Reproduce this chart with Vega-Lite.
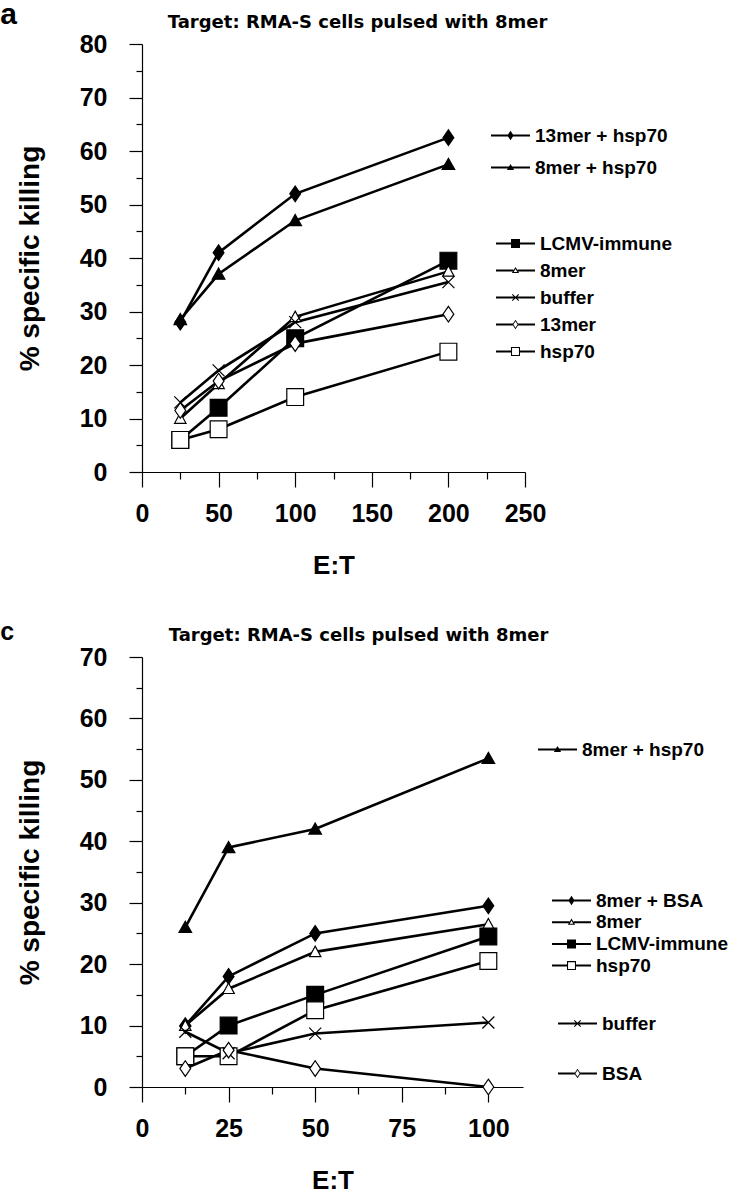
{
  "$schema": "https://vega.github.io/schema/vega-lite/v6.json",
  "background": "white",
  "padding": {"left": 0, "top": 0, "right": 0, "bottom": 0},
  "config": {
    "view": {"stroke": null},
    "axis": {
      "grid": false,
      "domainColor": "black",
      "tickColor": "black",
      "labelColor": "black",
      "titleColor": "black",
      "labelFont": "Liberation Sans",
      "labelFontWeight": "bold",
      "labelFontSize": 25,
      "titleFont": "Liberation Sans",
      "titleFontWeight": "bold",
      "titleFontSize": 28,
      "labelFlush": false,
      "labelOverlap": false,
      "labelBound": false,
      "domainWidth": 1.2,
      "tickWidth": 1.2
    },
    "axisX": {"labelFontSize": 25, "titleFontSize": 26},
    "legend": {
      "labelFont": "Liberation Sans",
      "labelFontWeight": "bold",
      "labelFontSize": 19,
      "labelColor": "black",
      "symbolSize": 36,
      "symbolStrokeWidth": 0,
      "labelOffset": 15,
      "labelLimit": 300
    },
    "title": {"color": "black"}
  },
  "datasets": {
    "a": [
      {"series": "13mer + hsp70", "et": 25, "killing": 28},
      {"series": "13mer + hsp70", "et": 50, "killing": 41},
      {"series": "13mer + hsp70", "et": 100, "killing": 52},
      {"series": "13mer + hsp70", "et": 200, "killing": 62.5},
      {"series": "8mer + hsp70", "et": 25, "killing": 28.5},
      {"series": "8mer + hsp70", "et": 50, "killing": 37},
      {"series": "8mer + hsp70", "et": 100, "killing": 47},
      {"series": "8mer + hsp70", "et": 200, "killing": 57.5},
      {"series": "LCMV-immune", "et": 25, "killing": 6},
      {"series": "LCMV-immune", "et": 50, "killing": 12},
      {"series": "LCMV-immune", "et": 100, "killing": 25},
      {"series": "LCMV-immune", "et": 200, "killing": 39.5},
      {"series": "8mer", "et": 25, "killing": 10},
      {"series": "8mer", "et": 50, "killing": 16.5},
      {"series": "8mer", "et": 100, "killing": 29},
      {"series": "8mer", "et": 200, "killing": 37.5},
      {"series": "buffer", "et": 25, "killing": 13},
      {"series": "buffer", "et": 50, "killing": 19},
      {"series": "buffer", "et": 100, "killing": 28},
      {"series": "buffer", "et": 200, "killing": 35.5},
      {"series": "13mer", "et": 25, "killing": 11.5},
      {"series": "13mer", "et": 50, "killing": 17},
      {"series": "13mer", "et": 100, "killing": 24},
      {"series": "13mer", "et": 200, "killing": 29.5},
      {"series": "hsp70", "et": 25, "killing": 6},
      {"series": "hsp70", "et": 50, "killing": 8},
      {"series": "hsp70", "et": 100, "killing": 14},
      {"series": "hsp70", "et": 200, "killing": 22.5}
    ],
    "c": [
      {"series": "8mer + hsp70", "et": 12.5, "killing": 26},
      {"series": "8mer + hsp70", "et": 25, "killing": 39},
      {"series": "8mer + hsp70", "et": 50, "killing": 42},
      {"series": "8mer + hsp70", "et": 100, "killing": 53.5},
      {"series": "8mer + BSA", "et": 12.5, "killing": 10},
      {"series": "8mer + BSA", "et": 25, "killing": 18},
      {"series": "8mer + BSA", "et": 50, "killing": 25},
      {"series": "8mer + BSA", "et": 100, "killing": 29.5},
      {"series": "8mer", "et": 12.5, "killing": 10},
      {"series": "8mer", "et": 25, "killing": 16},
      {"series": "8mer", "et": 50, "killing": 22},
      {"series": "8mer", "et": 100, "killing": 26.5},
      {"series": "LCMV-immune", "et": 12.5, "killing": 5},
      {"series": "LCMV-immune", "et": 25, "killing": 10},
      {"series": "LCMV-immune", "et": 50, "killing": 15},
      {"series": "LCMV-immune", "et": 100, "killing": 24.5},
      {"series": "hsp70", "et": 12.5, "killing": 5},
      {"series": "hsp70", "et": 25, "killing": 5},
      {"series": "hsp70", "et": 50, "killing": 12.5},
      {"series": "hsp70", "et": 100, "killing": 20.5},
      {"series": "buffer", "et": 12.5, "killing": 9},
      {"series": "buffer", "et": 25, "killing": 5.5},
      {"series": "buffer", "et": 50, "killing": 8.7},
      {"series": "buffer", "et": 100, "killing": 10.5},
      {"series": "BSA", "et": 12.5, "killing": 3},
      {"series": "BSA", "et": 25, "killing": 6},
      {"series": "BSA", "et": 50, "killing": 3},
      {"series": "BSA", "et": 100, "killing": 0}
    ]
  },
  "spacing": 42,
  "resolve": {"scale": {"shape": "independent", "fill": "independent", "x": "independent", "y": "independent"}},
  "vconcat": [
    {
      "title": {"text": "a", "anchor": "start", "frame": "bounds", "font": "Liberation Sans", "fontSize": 30, "fontWeight": "bold", "offset": -16, "dx": -16},
      "vconcat": [
        {
          "width": 383,
          "height": 428,
          "title": {"text": "Target: RMA-S cells pulsed with 8mer", "anchor": "middle", "dx": 24, "font": "DejaVu Sans", "fontSize": 18, "fontWeight": "bold", "offset": 0},
          "data": {"name": "a"},
          "encoding": {
            "x": {"field": "et", "type": "quantitative", "scale": {"domain": [0, 250], "nice": false},
              "axis": {"title": "E:T", "values": [0, 25, 50, 75, 100, 125, 150, 175, 200, 225, 250],
                "labelExpr": "datum.value % 50 ? '' : datum.label",
                "tickSize": {"condition": {"test": "datum.value % 50 !== 0", "value": 7}, "value": 15},
                "labelPadding": 14, "titlePadding": 26}},
            "y": {"field": "killing", "type": "quantitative", "scale": {"domain": [0, 80], "nice": false},
              "axis": {"title": "% specific killing", "values": [0, 5, 10, 15, 20, 25, 30, 35, 40, 45, 50, 55, 60, 65, 70, 75, 80],
                "labelExpr": "datum.value % 10 ? '' : datum.label",
                "tickSize": {"condition": {"test": "datum.value % 10 !== 0", "value": 6}, "value": 13},
                "labelPadding": 22, "titlePadding": 35}}
          },
          "layer": [
            {"mark": {"type": "line", "color": "black", "strokeWidth": 2.6}, "encoding": {"detail": {"field": "series"}}},
            {
              "mark": {"type": "point", "filled": true, "stroke": "black", "strokeWidth": 1.2, "size": 144, "opacity": 1},
              "encoding": {
                "shape": {"field": "series", "type": "nominal", "legend": null,
                  "scale": {"domain": ["13mer + hsp70", "8mer + hsp70", "LCMV-immune", "8mer", "buffer", "13mer", "hsp70"],
                    "range": ["M0,-1.3L0.9,0L0,1.3L-0.9,0Z", "M0,-1L1.05,0.85L-1.05,0.85Z", "M-1.4,-1.4H1.4V1.4H-1.4Z", "M0,-0.95L0.95,0.8L-0.95,0.8Z", "M-1,-1L1,1M-1,1L1,-1", "M0,-1.3L0.9,0L0,1.3L-0.9,0Z", "M-1.4,-1.4H1.4V1.4H-1.4Z"]}},
                "fill": {"field": "series", "type": "nominal", "legend": null,
                  "scale": {"domain": ["13mer + hsp70", "8mer + hsp70", "LCMV-immune", "8mer", "buffer", "13mer", "hsp70"],
                    "range": ["black", "black", "black", "white", "white", "white", "white"]}}
              }
            },
            {
              "transform": [{"filter": "false"}],
              "mark": {"type": "point", "filled": true, "color": "black", "opacity": 1},
              "encoding": {
                "shape": {"field": "series", "type": "nominal",
                  "scale": {"domain": ["13mer + hsp70", "8mer + hsp70"],
                    "range": ["M-6.5,-0.33H6.5V0.33H-6.5ZM0,-1.6L1.05,0L0,1.6L-1.05,0Z", "M-6.5,-0.33H6.5V0.33H-6.5ZM0,-1.2L1.2,0.85L-1.2,0.85Z"]},
                  "legend": {"title": null, "orient": "none", "legendX": 359, "legendY": 82, "rowPadding": 12}}
              }
            },
            {
              "transform": [{"filter": "false"}],
              "mark": {"type": "point", "filled": true, "color": "black", "opacity": 1},
              "encoding": {
                "shape": {"field": "series", "type": "nominal",
                  "scale": {"domain": ["LCMV-immune", "8mer", "buffer", "13mer", "hsp70"],
                    "range": [
                      "M-6.5,-0.33H6.5V0.33H-6.5ZM-1.5,-1.5H1.5V1.5H-1.5Z",
                      "M-6.5,-0.33H-0.7V0.33H-6.5ZM0.7,-0.33H6.5V0.33H0.7ZM0,-1.2L1.2,0.85L-1.2,0.85ZM0,-0.51L-0.59,0.5L0.59,0.5Z",
                      "M-6.5,-0.33H6.5V0.33H-6.5ZM-1.2,-0.95L-0.95,-1.2L0,-0.25L0.95,-1.2L1.2,-0.95L0.25,0L1.2,0.95L0.95,1.2L0,0.25L-0.95,1.2L-1.2,0.95L-0.25,0Z",
                      "M-6.5,-0.33H-0.85V0.33H-6.5ZM0.85,-0.33H6.5V0.33H0.85ZM0,-1.6L1.05,0L0,1.6L-1.05,0ZM0,-1.1L-0.7,0L0,1.1L0.7,0Z",
                      "M-6.5,-0.33H-1.4V0.33H-6.5ZM1.4,-0.33H6.5V0.33H1.4ZM-1.5,-1.5H1.5V1.5H-1.5ZM-1.15,-1.15V1.15H1.15V-1.15Z"
                    ]},
                  "legend": {"title": null, "orient": "none", "legendX": 364, "legendY": 190, "rowPadding": 7}}
              }
            }
          ],
          "resolve": {"scale": {"shape": "independent", "fill": "independent"}}
        }
      ]
    },
    {
      "title": {"text": "c", "anchor": "start", "frame": "bounds", "font": "Liberation Sans", "fontSize": 25, "fontWeight": "bold", "offset": -18, "dx": -16},
      "vconcat": [
        {
          "width": 381,
          "height": 430,
          "title": {"text": "Target: RMA-S cells pulsed with 8mer", "anchor": "middle", "dx": 26, "font": "DejaVu Sans", "fontSize": 18, "fontWeight": "bold", "offset": 0},
          "data": {"name": "c"},
          "encoding": {
            "x": {"field": "et", "type": "quantitative", "scale": {"domain": [0, 110], "nice": false},
              "axis": {"title": "E:T", "values": [0, 12.5, 25, 37.5, 50, 62.5, 75, 87.5, 100],
                "labelExpr": "datum.value % 25 ? '' : datum.label",
                "tickSize": {"condition": {"test": "datum.value % 25 !== 0", "value": 7}, "value": 15},
                "labelPadding": 14, "titlePadding": 26}},
            "y": {"field": "killing", "type": "quantitative", "scale": {"domain": [0, 70], "nice": false},
              "axis": {"title": "% specific killing", "values": [0, 5, 10, 15, 20, 25, 30, 35, 40, 45, 50, 55, 60, 65, 70],
                "labelExpr": "datum.value % 10 ? '' : datum.label",
                "tickSize": {"condition": {"test": "datum.value % 10 !== 0", "value": 6}, "value": 13},
                "labelPadding": 22, "titlePadding": 35}}
          },
          "layer": [
            {"mark": {"type": "line", "color": "black", "strokeWidth": 2.6}, "encoding": {"detail": {"field": "series"}}},
            {
              "mark": {"type": "point", "filled": true, "stroke": "black", "strokeWidth": 1.2, "size": 144, "opacity": 1},
              "encoding": {
                "shape": {"field": "series", "type": "nominal", "legend": null,
                  "scale": {"domain": ["8mer + hsp70", "8mer + BSA", "8mer", "LCMV-immune", "hsp70", "buffer", "BSA"],
                    "range": ["M0,-1L1.05,0.85L-1.05,0.85Z", "M0,-1.3L0.9,0L0,1.3L-0.9,0Z", "M0,-0.95L0.95,0.8L-0.95,0.8Z", "M-1.4,-1.4H1.4V1.4H-1.4Z", "M-1.4,-1.4H1.4V1.4H-1.4Z", "M-1,-1L1,1M-1,1L1,-1", "M0,-1.3L0.9,0L0,1.3L-0.9,0Z"]}},
                "fill": {"field": "series", "type": "nominal", "legend": null,
                  "scale": {"domain": ["8mer + hsp70", "8mer + BSA", "8mer", "LCMV-immune", "hsp70", "buffer", "BSA"],
                    "range": ["black", "black", "white", "black", "white", "white", "white"]}}
              }
            },
            {
              "transform": [{"filter": "false"}],
              "mark": {"type": "point", "filled": true, "color": "black", "opacity": 1},
              "encoding": {
                "shape": {"field": "series", "type": "nominal",
                  "scale": {"domain": ["8mer + hsp70"],
                    "range": ["M-6.5,-0.33H6.5V0.33H-6.5ZM0,-1.2L1.2,0.85L-1.2,0.85Z"]},
                  "legend": {"title": null, "orient": "none", "legendX": 406, "legendY": 83}}
              }
            },
            {
              "transform": [{"filter": "false"}],
              "mark": {"type": "point", "filled": true, "color": "black", "opacity": 1},
              "encoding": {
                "shape": {"field": "series", "type": "nominal",
                  "scale": {"domain": ["8mer + BSA", "8mer", "LCMV-immune", "hsp70"],
                    "range": [
                      "M-6.5,-0.33H6.5V0.33H-6.5ZM0,-1.6L1.05,0L0,1.6L-1.05,0Z",
                      "M-6.5,-0.33H-0.7V0.33H-6.5ZM0.7,-0.33H6.5V0.33H0.7ZM0,-1.2L1.2,0.85L-1.2,0.85ZM0,-0.51L-0.59,0.5L0.59,0.5Z",
                      "M-6.5,-0.33H6.5V0.33H-6.5ZM-1.5,-1.5H1.5V1.5H-1.5Z",
                      "M-6.5,-0.33H-1.4V0.33H-6.5ZM1.4,-0.33H6.5V0.33H1.4ZM-1.5,-1.5H1.5V1.5H-1.5ZM-1.15,-1.15V1.15H1.15V-1.15Z"
                    ]},
                  "legend": {"title": null, "orient": "none", "legendX": 420, "legendY": 234, "rowPadding": 1.7}}
              }
            },
            {
              "transform": [{"filter": "false"}],
              "mark": {"type": "point", "filled": true, "color": "black", "opacity": 1},
              "encoding": {
                "shape": {"field": "series", "type": "nominal",
                  "scale": {"domain": ["buffer"],
                    "range": ["M-6.5,-0.33H6.5V0.33H-6.5ZM-1.2,-0.95L-0.95,-1.2L0,-0.25L0.95,-1.2L1.2,-0.95L0.25,0L1.2,0.95L0.95,1.2L0,0.25L-0.95,1.2L-1.2,0.95L-0.25,0Z"]},
                  "legend": {"title": null, "orient": "none", "legendX": 426, "legendY": 357}}
              }
            },
            {
              "transform": [{"filter": "false"}],
              "mark": {"type": "point", "filled": true, "color": "black", "opacity": 1},
              "encoding": {
                "shape": {"field": "series", "type": "nominal",
                  "scale": {"domain": ["BSA"],
                    "range": ["M-6.5,-0.33H-0.85V0.33H-6.5ZM0.85,-0.33H6.5V0.33H0.85ZM0,-1.6L1.05,0L0,1.6L-1.05,0ZM0,-1.1L-0.7,0L0,1.1L0.7,0Z"]},
                  "legend": {"title": null, "orient": "none", "legendX": 426, "legendY": 407}}
              }
            }
          ],
          "resolve": {"scale": {"shape": "independent", "fill": "independent"}}
        }
      ]
    }
  ]
}
